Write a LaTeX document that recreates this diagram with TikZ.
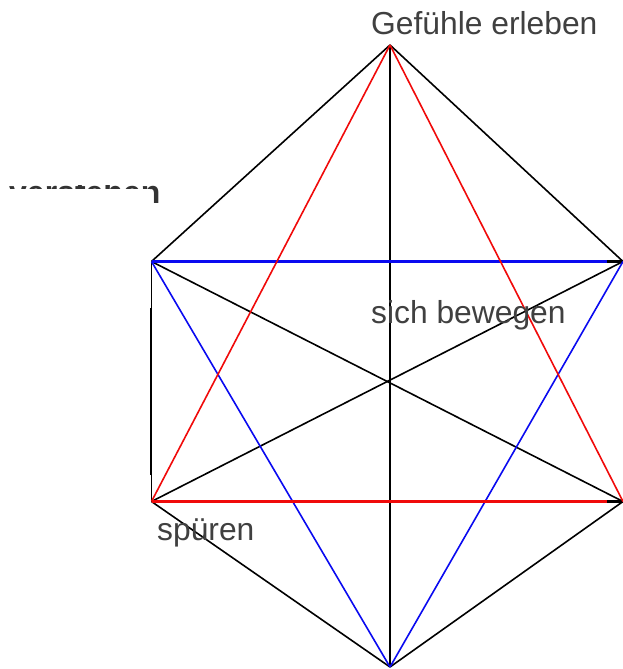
\documentclass[tikz,border=0pt]{standalone}
\usepackage{fontspec}
\setmainfont{Liberation Sans}
\definecolor{txtgray}{HTML}{404040}
\definecolor{myblue}{HTML}{0A0AF0}
\definecolor{myred}{HTML}{F00A0A}
\begin{document}
\begin{tikzpicture}[x=1pt,y=-1pt,
  edge/.style={line width=1.6pt,black},
  blueedge/.style={line width=1.6pt,myblue},
  rededge/.style={line width=1.6pt,myred},
  label/.style={inner sep=0pt,anchor=base west,text=txtgray,font=\fontsize{31.8}{36}\selectfont}]
\useasboundingbox (0,0) rectangle (623,669);
\coordinate (T) at (390,45);
\coordinate (UL) at (151.5,261.5);
\coordinate (UR) at (623,261.5);
\coordinate (LL) at (151.5,501.5);
\coordinate (LR) at (623,501.5);
\coordinate (B) at (390,667);
\coordinate (UE) at (607,261.5);
\coordinate (LE) at (607,501.5);
\coordinate (S1) at (150.8,308);
\coordinate (S2) at (150.8,475);
% black lines
\draw[edge] (T) -- (UL);
\draw[edge] (T) -- (UR);
\draw[edge] (T) -- (B);
\draw[edge] (UL) -- (LL);
\draw[line width=1.9pt] (S1) -- (S2);
\draw[edge] (UL) -- (LR);
\draw[edge] (LL) -- (UR);
\draw[edge] (LL) -- (B);
\draw[edge] (B) -- (LR);
\draw[line width=2.2pt] (UL) -- (UR);
\draw[line width=2.2pt] (LL) -- (LR);
% blue lines
\draw[blueedge,line width=2.2pt] (UL) -- (UE);
\draw[blueedge] (UL) -- (B);
\draw[blueedge] (B) -- (UR);
% red lines
\draw[rededge] (T) -- (LL);
\draw[rededge] (T) -- (LR);
\draw[rededge,line width=2.2pt] (LL) -- (LE);
% labels
\node[label] (ge) at (371,35) {Gefühle erleben};
\node[label] (sb) at (371,323) {sich bewegen};
\node[label] (sp) at (157,540) {spüren};
\begin{scope}
\clip (0,185.5) rectangle (300,669);
\node[label,text=black!80,font=\fontsize{32}{36}\selectfont\bfseries] (vs) at (9,203) {verstehen};
\fill[white] (0,188.5) rectangle (149.5,215);
\end{scope}
\end{tikzpicture}
\end{document}
